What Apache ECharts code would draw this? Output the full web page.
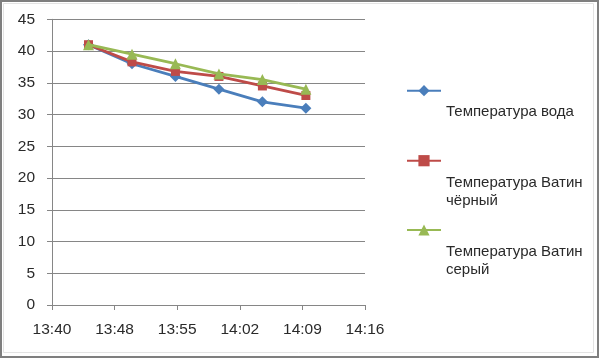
<!DOCTYPE html>
<html>
<head>
<meta charset="utf-8">
<script src="https://cdn.jsdelivr.net/npm/echarts@6/dist/echarts.min.js"></script>
<style>
html,body{margin:0;padding:0;background:#fff;}
#chart{width:600px;height:359px;}
</style>
</head>
<body>
<div id="chart"></div>
<script>
// ---- data ----
var times = ['13:45', '13:50', '13:55', '14:00', '14:05', '14:10'];
var seriesNames = ['Температура вода', 'Температура Ватин чёрный', 'Температура Ватин серый'];
var legendLines = [['Температура вода'], ['Температура Ватин', 'чёрный'], ['Температура Ватин', 'серый']];
var waterTemp = [41, 38, 36, 34, 32, 31];
var blackTemp = [41, 38.3, 36.8, 36, 34.5, 33];
var greyTemp = [41, 39.5, 38, 36.4, 35.5, 34];
var xTickLabels = ['13:40', '13:48', '13:55', '14:02', '14:09', '14:16'];
var yTickLabels = [0, 5, 10, 15, 20, 25, 30, 35, 40, 45];

// time axis in minutes of day (Excel-like: 0.57 day .. step 0.005 day)
var xMin = 820.8, xInterval = 7.2, xMax = 856.8;
function toMin(t) { var p = t.split(':'); return (+p[0]) * 60 + (+p[1]); }
function pairs(vals) { return times.map(function (t, i) { return [toMin(t), vals[i]]; }); }

var colors = ['#4A7EBB', '#BE4B48', '#98B954'];
var symbols = ['diamond', 'rect', 'triangle'];
var symSizes = [11, 9, 11];
var values = [waterTemp, blackTemp, greyTemp];

var series = values.map(function (v, i) {
  return {
    name: seriesNames[i],
    type: 'line',
    data: pairs(v),
    symbol: symbols[i],
    symbolSize: symSizes[i],
    lineStyle: { color: colors[i], width: 2.8 },
    itemStyle: { color: colors[i] },
    z: 2 + i
  };
});

var legendTops = [60.7, 111.7, 181];
var spacerH = [42, 62, 62];
var legends = seriesNames.map(function (n, i) {
  return {
    data: [n],
    left: 406,
    top: legendTops[i],
    orient: 'vertical',
    padding: 0,
    itemWidth: 34,
    itemHeight: 14,
    selectedMode: false,
    formatter: function () {
      return '{s| }\n' + legendLines[i].map(function (l) { return '{t|' + l + '}'; }).join('\n');
    },
    textStyle: {
      fontFamily: 'Liberation Sans',
      fontSize: 15,
      color: '#2a2a2a',
      rich: {
        s: { height: spacerH[i], lineHeight: spacerH[i], fontSize: 1 },
        t: { fontFamily: 'Liberation Sans', fontSize: 15, color: '#2a2a2a', lineHeight: 18, height: 18 }
      }
    }
  };
});

var chart = echarts.init(document.getElementById('chart'), null, { renderer: 'canvas' });
chart.setOption({
  animation: false,
  backgroundColor: '#fff',
  grid: { left: 52, right: 235, top: 19.3, bottom: 54 },
  xAxis: {
    type: 'value',
    min: xMin,
    max: xMax,
    interval: xInterval,
    axisLine: { lineStyle: { color: '#868686', width: 1 } },
    axisTick: { show: true, length: 5, lineStyle: { color: '#868686' } },
    splitLine: { show: false },
    axisLabel: {
      margin: 17,
      fontFamily: 'Liberation Sans',
      fontSize: 15.5,
      color: '#2a2a2a',
      formatter: function (v) {
        var k = Math.round((v - xMin) / xInterval);
        return xTickLabels[k] !== undefined ? xTickLabels[k] : '';
      }
    }
  },
  yAxis: {
    type: 'value',
    min: 0,
    max: 45,
    interval: 5,
    axisLine: { show: true, lineStyle: { color: '#868686', width: 1 } },
    axisTick: { show: true, length: 5, lineStyle: { color: '#868686' } },
    splitLine: { show: true, lineStyle: { color: '#868686', width: 1 } },
    axisLabel: {
      margin: 17,
      fontFamily: 'Liberation Sans',
      fontSize: 15.5,
      color: '#2a2a2a',
      formatter: function (v) {
        var k = Math.round(v / 5);
        return yTickLabels[k] !== undefined ? String(yTickLabels[k]) : '';
      }
    }
  },
  legend: legends,
  graphic: [
    { type: 'rect', shape: { x: 3.5, y: 3.5, width: 590, height: 349 }, style: { fill: 'none', stroke: '#e3e3e3', lineWidth: 1 }, silent: true },
    { type: 'rect', shape: { x: 1, y: 1, width: 597, height: 356 }, style: { fill: 'none', stroke: '#7f7f7f', lineWidth: 2 }, silent: true }
  ],
  series: series
});
</script>
</body>
</html>
